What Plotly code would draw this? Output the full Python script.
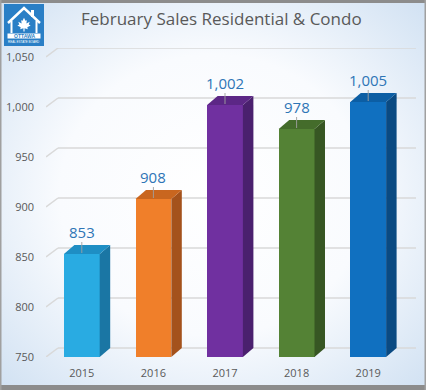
import base64
import plotly.graph_objects as go

# ---------------- data ----------------
years = ["2015", "2016", "2017", "2018", "2019"]
sales = [853, 908, 1002, 978, 1005]
front_colors = ["#29abe2", "#f07f2a", "#7030a0", "#548235", "#1070c0"]
side_colors = ["#1a76a4", "#a4521c", "#4a206e", "#375623", "#0a4a82"]
top_colors = ["#1e8ec4", "#c9661f", "#5c2786", "#446c2b", "#0c5ea4"]
y_ticks = [750, 800, 850, 900, 950, 1000, 1050]
title_text = "February Sales Residential & Condo"

# ---------------- geometry ----------------
W, H = 426, 390
L, R, T, B = 46, 10, 48, 33
pw, ph = W - L - R, H - T - B
ymin = y_ticks[0]
depth_y = 9                  # y-units of depth (1 px per unit)
unit_px = 71.6               # px per category
grid_dx = 12 / unit_px       # back-plane offset (categories)
bar_dx = 10.5 / unit_px
bar_w = 0.5
xr = [-0.5, len(years) - 0.5 + grid_dx]
yr = [ymin, y_ticks[-1] + depth_y]


def px_x(p):
    return (p - L) / pw


def px_y(p):
    return (H - B - p) / ph


fig = go.Figure()

# front faces
fig.add_trace(go.Bar(
    x=list(range(len(years))), y=[v - ymin for v in sales], base=ymin,
    width=bar_w, marker=dict(color=front_colors, line=dict(width=0)),
    hoverinfo="skip", showlegend=False))

# side and top faces
for i, v in enumerate(sales):
    xl, xrt = i - bar_w / 2, i + bar_w / 2
    fig.add_trace(go.Scatter(
        x=[xrt, xrt + bar_dx, xrt + bar_dx, xrt, xrt],
        y=[ymin, ymin + depth_y, v + depth_y, v, ymin],
        fill="toself", fillcolor=side_colors[i], mode="lines",
        line=dict(width=0, color=side_colors[i]), hoverinfo="skip", showlegend=False))
    fig.add_trace(go.Scatter(
        x=[xl, xl + bar_dx, xrt + bar_dx, xrt, xl],
        y=[v, v + depth_y, v + depth_y, v, v],
        fill="toself", fillcolor=top_colors[i], mode="lines",
        line=dict(width=0, color=top_colors[i]), hoverinfo="skip", showlegend=False))
    # leader line
    fig.add_trace(go.Scatter(
        x=[i, i], y=[v + 1, v + 12], mode="lines",
        line=dict(width=1, color="rgba(160,160,160,0.9)"),
        hoverinfo="skip", showlegend=False))
    fig.add_annotation(x=i, y=v, xref="x", yref="y", text=f"{v:,}",
                       showarrow=False, yshift=22, yanchor="middle", xanchor="center",
                       font=dict(family="Open Sans", size=15, color="#2e75b6"))

# back-plane gridlines with depth diagonal
shapes = []
for t in y_ticks:
    shapes.append(dict(type="line", xref="x", yref="y", layer="below",
                       x0=xr[0] + grid_dx, x1=xr[1], y0=t + depth_y, y1=t + depth_y,
                       line=dict(color="#d9d9d9", width=1.5)))
    shapes.append(dict(type="line", xref="x", yref="y", layer="below",
                       x0=xr[0], x1=xr[0] + grid_dx, y0=t, y1=t + depth_y,
                       line=dict(color="#d9d9d9", width=1.5)))

# background / frame / logo artwork
leaf = [(0, -7), (1.5, -4), (3, -4.6), (2.5, -1), (6, -3), (5, 0), (7, 1), (3.5, 3),
        (4, 5), (0.6, 4), (0.6, 7.5), (-0.6, 7.5), (-0.6, 4), (-4, 5), (-3.5, 3),
        (-7, 1), (-5, 0), (-6, -3), (-2.5, -1), (-3, -4.6), (-1.5, -4)]
leaf_pts = " ".join(f"{24 + a * 0.95:.2f},{24.5 + b * 0.95:.2f}" for a, b in leaf)
svg = f'''<svg xmlns="http://www.w3.org/2000/svg" width="{W}" height="{H}" viewBox="0 0 {W} {H}">
<defs><radialGradient id="g" cx="0.5" cy="0.5" r="0.72">
<stop offset="0" stop-color="#ffffff"/><stop offset="0.5" stop-color="#f9fbfe"/>
<stop offset="1" stop-color="#cfe0f2"/></radialGradient></defs>
<rect x="0" y="0" width="{W}" height="{H}" fill="url(#g)"/>
<rect x="0" y="0" width="{W}" height="3" fill="#8c8c8c"/>
<rect x="0" y="385" width="{W}" height="5" fill="#8c8c8c"/>
<rect x="0" y="0" width="1.5" height="{H}" fill="#a0a0a0"/>
<rect x="424.5" y="0" width="1.5" height="{H}" fill="#a0a0a0"/>
<rect x="4" y="4" width="40" height="42" fill="#2a7fc6"/>
<polyline points="8,23 24,8 40,23" fill="none" stroke="#ffffff" stroke-width="2.4"/>
<polyline points="11.5,21 11.5,33" fill="none" stroke="#ffffff" stroke-width="2"/>
<polyline points="36.5,21 36.5,33" fill="none" stroke="#ffffff" stroke-width="2"/>
<rect x="31" y="10" width="3" height="7" fill="#ffffff"/>
<polygon points="{leaf_pts}" fill="#ffffff"/>
<rect x="7.5" y="33.5" width="33" height="5" fill="#ffffff"/>
</svg>'''
src = "data:image/svg+xml;base64," + base64.b64encode(svg.encode()).decode()
fig.add_layout_image(dict(source=src, xref="paper", yref="paper",
                          x=px_x(0), y=px_y(0), sizex=W / pw, sizey=H / ph,
                          xanchor="left", yanchor="top", sizing="stretch", layer="below"))

fig.add_annotation(xref="paper", yref="paper", x=px_x(24), y=px_y(36.2), text="<b>OTTAWA</b>",
                   showarrow=False, yanchor="middle", xanchor="center",
                   font=dict(family="Liberation Sans", size=5, color="#2a7fc6"))
fig.add_annotation(xref="paper", yref="paper", x=px_x(24), y=px_y(42), text="REAL ESTATE BOARD",
                   showarrow=False, yanchor="middle", xanchor="center",
                   font=dict(family="Liberation Sans", size=3, color="#ffffff"))
fig.add_annotation(xref="paper", yref="paper", x=px_x(221), y=px_y(18), text=title_text,
                   showarrow=False, yanchor="middle", xanchor="center",
                   font=dict(family="Open Sans", size=17, color="#595959"))

fig.update_layout(
    width=W, height=H, margin=dict(l=L, r=R, t=T, b=B, pad=0, autoexpand=False),
    paper_bgcolor="rgba(0,0,0,0)", plot_bgcolor="rgba(0,0,0,0)",
    shapes=shapes, showlegend=False, bargap=0,
    xaxis=dict(range=xr, tickvals=list(range(len(years))), ticktext=years,
               showgrid=False, zeroline=False, showline=False, ticks="",
               ticklabelstandoff=8, fixedrange=True, automargin=False,
               tickfont=dict(family="Open Sans", size=11, color="#595959")),
    yaxis=dict(range=yr, tickvals=y_ticks, ticktext=[f"{t:,}" for t in y_ticks],
               showgrid=False, zeroline=False, showline=False, ticks="",
               ticklabelstandoff=11, fixedrange=True, automargin=False,
               tickfont=dict(family="Open Sans", size=11, color="#595959")),
)

fig.write_html("out.html", config={"displayModeBar": False},
               post_script="document.body.style.margin='0';document.body.style.overflow='hidden';")
